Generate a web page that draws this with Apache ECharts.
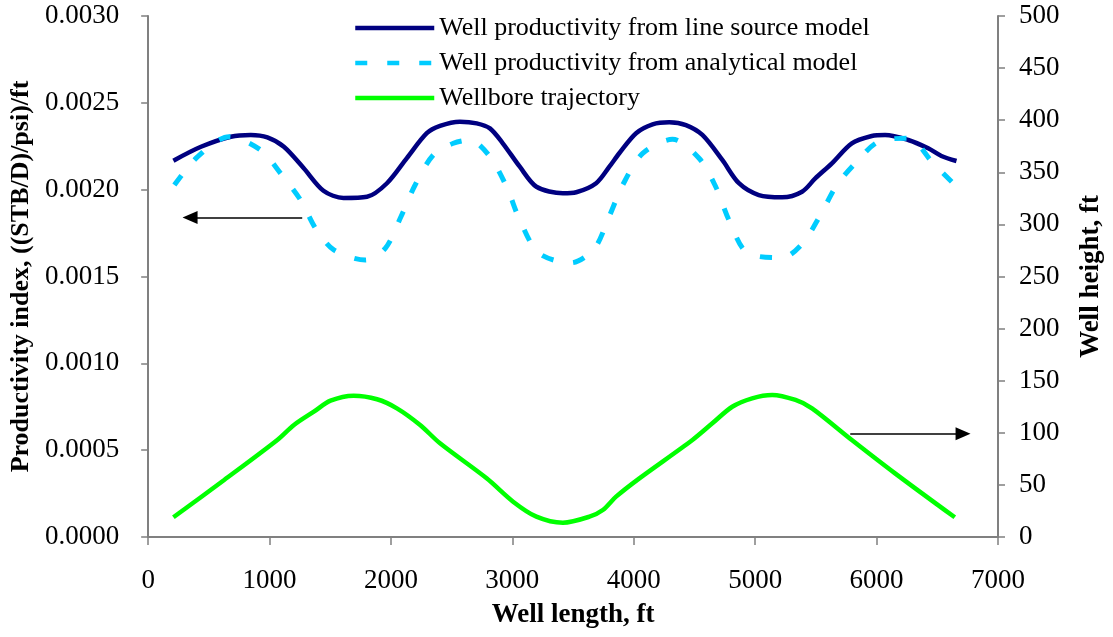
<!DOCTYPE html>
<html>
<head>
<meta charset="utf-8">
<script src="https://cdn.jsdelivr.net/npm/echarts@6/dist/echarts.min.js"></script>
<style>
  html, body { margin: 0; padding: 0; background: #ffffff; }
  #chart { width: 1113px; height: 637px; }
</style>
</head>
<body>
<div id="chart"></div>
<script>
// Well productivity along a wavy horizontal well (line source vs. analytical model)
const lineSourceLength = [208, 435, 681, 845, 982, 1118, 1280, 1444, 1609, 1803, 1967, 2131, 2295, 2404, 2568, 2706, 2815, 2921, 3061, 3198, 3416, 3526, 3690, 3799, 3882, 4019, 4155, 4292, 4429, 4565, 4729, 4866, 5030, 5222, 5386, 5495, 5632, 5796, 5960, 6070, 6261, 6425, 6534, 6658];
const lineSourcePI = [0.002167, 0.002247, 0.002305, 0.002315, 0.002301, 0.002247, 0.002125, 0.001994, 0.001952, 0.001959, 0.002037, 0.002182, 0.002325, 0.002367, 0.002391, 0.002382, 0.002353, 0.002267, 0.002132, 0.002017, 0.001979, 0.001985, 0.002037, 0.002132, 0.002211, 0.002325, 0.002376, 0.002388, 0.002372, 0.002315, 0.002171, 0.002037, 0.001969, 0.001956, 0.001988, 0.002065, 0.002152, 0.002267, 0.002309, 0.002315, 0.002286, 0.002238, 0.002194, 0.002165];

const analyticalLength = [216, 408, 667, 927, 1091, 1256, 1379, 1529, 1789, 1953, 2082, 2199, 2349, 2514, 2651, 2815, 2952, 3061, 3219, 3485, 3676, 3799, 3909, 4073, 4319, 4538, 4675, 4784, 4934, 5222, 5391, 5537, 5673, 5824, 6015, 6261, 6466, 6631];
const analyticalPI = [0.002027, 0.002190, 0.002305, 0.002228, 0.002094, 0.001940, 0.001777, 0.001653, 0.001595, 0.001662, 0.001844, 0.002027, 0.002200, 0.002267, 0.002286, 0.002190, 0.002017, 0.001825, 0.001634, 0.001579, 0.001662, 0.001848, 0.002027, 0.002209, 0.002290, 0.002181, 0.002017, 0.001825, 0.001637, 0.001608, 0.001691, 0.001854, 0.002027, 0.002152, 0.002276, 0.002296, 0.002152, 0.002037];

const trajectoryLength = [208, 626, 1064, 1201, 1365, 1502, 1693, 1885, 2049, 2240, 2404, 2788, 3006, 3198, 3416, 3635, 3745, 3854, 4046, 4483, 4647, 4811, 4975, 5140, 5332, 5468, 5796, 6152, 6644];
const trajectoryHeight = [18.9, 54.7, 93.1, 107.5, 120.3, 130.8, 135.6, 132.2, 123.5, 107.5, 89.9, 56.3, 33.9, 19.5, 13.7, 19.5, 25.9, 38.7, 56.3, 93.1, 109.1, 125.0, 133.1, 136.3, 131.5, 123.5, 93.1, 61.1, 18.9];

const seriesNames = [
  'Well productivity from line source model',
  'Well productivity from analytical model',
  'Wellbore trajectory'
];

// Arrow annotations pointing each curve group to its axis
const leftArrow = { fromX: 1269, toX: 345, y: 0.00184 };
const rightArrow = { fromX: 5783, toX: 6712, y: 99 };

const pairs = (xs, ys) => xs.map((x, i) => [x, ys[i]]);
const FONT = "'Liberation Serif', 'Times New Roman', serif";

const chart = echarts.init(document.getElementById('chart'), null, { renderer: 'canvas' });

const arrowLine = (a) => ({
  silent: true,
  symbol: ['none', 'triangle'],
  symbolSize: [13, 15],
  label: { show: false },
  lineStyle: { color: '#000000', width: 1.5, type: 'solid' },
  itemStyle: { color: '#000000' },
  emphasis: { disabled: true },
  animation: false,
  data: [[{ coord: [a.fromX, a.y] }, { coord: [a.toX, a.y] }]]
});

chart.setOption({
  animation: false,
  backgroundColor: '#ffffff',
  textStyle: { fontFamily: FONT },
  grid: { left: 147, right: 113, top: 16, bottom: 100, containLabel: false },
  legend: {
    orient: 'vertical',
    left: 348,
    top: 10,
    itemWidth: 79,
    itemHeight: 14,
    itemGap: 9,
    selectedMode: false,
    itemStyle: { opacity: 0 },
    lineStyle: { width: 4.5 },
    textStyle: { fontFamily: FONT, fontSize: 26, color: '#000000' },
    data: seriesNames
  },
  xAxis: {
    type: 'value',
    min: 0,
    max: 7000,
    interval: 1000,
    name: 'Well length, ft',
    nameLocation: 'middle',
    nameGap: 65,
    nameTextStyle: { fontFamily: FONT, fontSize: 27, fontWeight: 'bold', color: '#000000' },
    axisLine: { show: true, onZero: false, lineStyle: { color: '#808080', width: 2 } },
    axisTick: { show: true, inside: false, length: 8, lineStyle: { color: '#808080', width: 1.5 } },
    axisLabel: { margin: 30, fontFamily: FONT, fontSize: 27, color: '#000000', formatter: (v) => String(v) },
    splitLine: { show: false }
  },
  yAxis: [
    {
      type: 'value',
      position: 'left',
      min: 0,
      max: 0.003,
      interval: 0.0005,
      name: 'Productivity index, ((STB/D)/psi)/ft',
      nameLocation: 'middle',
      nameGap: 110,
      nameTextStyle: { fontFamily: FONT, fontSize: 26, fontWeight: 'bold', color: '#000000' },
      axisLine: { show: true, lineStyle: { color: '#808080', width: 2 } },
      axisTick: { show: true, inside: false, length: 7, lineStyle: { color: '#808080', width: 1.5 } },
      axisLabel: {
        margin: 29,
        fontFamily: FONT,
        fontSize: 27,
        color: '#000000',
        formatter: (v) => v.toFixed(4)
      },
      splitLine: { show: false }
    },
    {
      type: 'value',
      position: 'right',
      min: 0,
      max: 500,
      interval: 50,
      name: 'Well height, ft',
      nameLocation: 'middle',
      nameGap: 80,
      nameTextStyle: { fontFamily: FONT, fontSize: 27, fontWeight: 'bold', color: '#000000' },
      axisLine: { show: true, lineStyle: { color: '#808080', width: 2 } },
      axisTick: { show: true, inside: false, length: 7, lineStyle: { color: '#808080', width: 1.5 } },
      axisLabel: { margin: 21, fontFamily: FONT, fontSize: 27, color: '#000000' },
      splitLine: { show: false }
    }
  ],
  series: [
    {
      name: seriesNames[0],
      type: 'line',
      yAxisIndex: 0,
      symbol: 'none',
      smooth: 0.3,
      lineStyle: { color: '#000080', width: 4.5 },
      itemStyle: { color: '#000080' },
      data: pairs(lineSourceLength, lineSourcePI),
      markLine: arrowLine(leftArrow)
    },
    {
      name: seriesNames[1],
      type: 'line',
      yAxisIndex: 0,
      symbol: 'none',
      smooth: 0.3,
      lineStyle: { color: '#00CCFF', width: 5, type: [12, 20] },
      itemStyle: { color: '#00CCFF' },
      data: pairs(analyticalLength, analyticalPI)
    },
    {
      name: seriesNames[2],
      type: 'line',
      yAxisIndex: 1,
      symbol: 'none',
      smooth: 0.3,
      lineStyle: { color: '#00FF00', width: 4.5 },
      itemStyle: { color: '#00FF00' },
      data: pairs(trajectoryLength, trajectoryHeight),
      markLine: arrowLine(rightArrow)
    }
  ]
});
</script>
</body>
</html>
